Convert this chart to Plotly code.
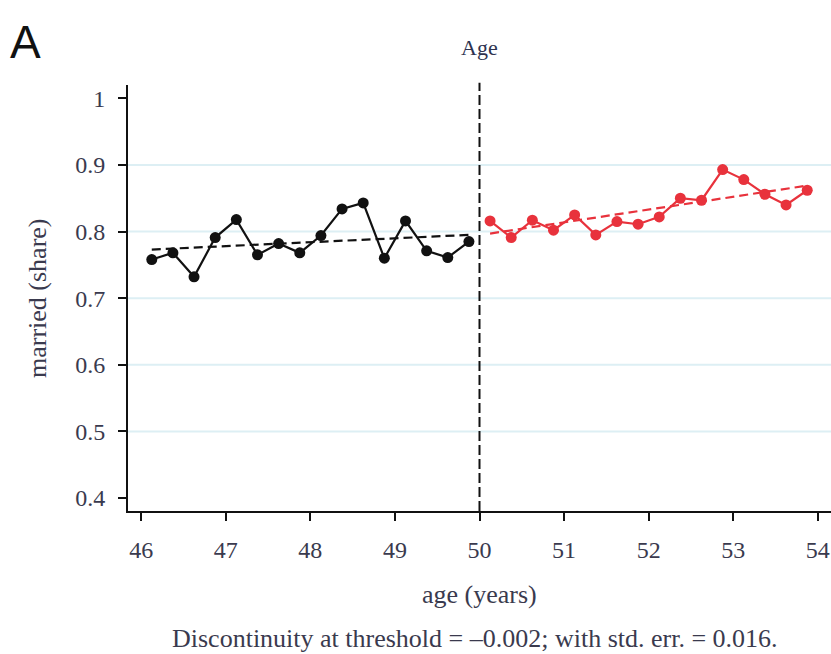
import plotly.graph_objects as go

# ---- data ----
left_age = [46.125, 46.375, 46.625, 46.875, 47.125, 47.375, 47.625, 47.875,
            48.125, 48.375, 48.625, 48.875, 49.125, 49.375, 49.625, 49.875]
left_married = [0.758, 0.768, 0.732, 0.791, 0.818, 0.765, 0.782, 0.768,
                0.794, 0.834, 0.843, 0.760, 0.816, 0.771, 0.761, 0.785]
right_age = [50.125, 50.375, 50.625, 50.875, 51.125, 51.375, 51.625, 51.875,
             52.125, 52.375, 52.625, 52.875, 53.125, 53.375, 53.625, 53.875]
right_married = [0.816, 0.791, 0.817, 0.802, 0.825, 0.795, 0.815, 0.811,
                 0.822, 0.850, 0.847, 0.893, 0.878, 0.856, 0.840, 0.862]
left_fit_x = [46.125, 49.875]
left_fit_y = [0.773, 0.795]
right_fit_x = [50.125, 53.875]
right_fit_y = [0.797, 0.869]
threshold = 50
x_ticks = [46, 47, 48, 49, 50, 51, 52, 53, 54]
y_ticks = [0.4, 0.5, 0.6, 0.7, 0.8, 0.9, 1.0]
y_ticklabels = ["0.4", "0.5", "0.6", "0.7", "0.8", "0.9", "1"]
grid_y = [0.5, 0.6, 0.7, 0.8, 0.9]

BLACK = "#111111"
RED = "#e8323c"
TXT = "#3a3a4e"
SERIF = "Liberation Serif, Times New Roman, serif"

fig = go.Figure()

fig.add_trace(go.Scatter(x=left_fit_x, y=left_fit_y, mode="lines",
                         line=dict(color=BLACK, width=2.2, dash="9px,5px"),
                         showlegend=False, hoverinfo="skip"))
fig.add_trace(go.Scatter(x=right_fit_x, y=right_fit_y, mode="lines",
                         line=dict(color=RED, width=2.2, dash="9px,5px"),
                         showlegend=False, hoverinfo="skip"))
fig.add_trace(go.Scatter(x=left_age, y=left_married, mode="lines+markers",
                         line=dict(color=BLACK, width=2.2),
                         marker=dict(color=BLACK, size=11),
                         showlegend=False))
fig.add_trace(go.Scatter(x=right_age, y=right_married, mode="lines+markers",
                         line=dict(color=RED, width=2.2),
                         marker=dict(color=RED, size=11),
                         showlegend=False))

shapes = []
for g in grid_y:
    shapes.append(dict(type="line", xref="paper", x0=0, x1=1, yref="y", y0=g, y1=g,
                       line=dict(color="#ddeff4", width=2), layer="below"))
shapes.append(dict(type="line", xref="x", x0=threshold, x1=threshold,
                   yref="paper", y0=0, y1=1.005,
                   line=dict(color=BLACK, width=2, dash="10px,4px")))

L, T, B = 128, 85, 143
PH = 654 - T - B

def py(p):
    return (654 - B - p) / PH

annotations = [
    dict(text="A", xref="paper", yref="paper", x=(8 - L) / (831 - L), y=py(42),
         xanchor="left", yanchor="middle", showarrow=False,
         font=dict(family="Liberation Sans, Arial, sans-serif", size=46, color="#111111")),
    dict(text="Age", xref="paper", yref="paper", x=0.5, y=py(47),
         xanchor="center", yanchor="middle", showarrow=False,
         font=dict(family=SERIF, size=22, color="#2e3350")),
    dict(text="age (years)", xref="paper", yref="paper", x=0.5, y=py(594),
         xanchor="center", yanchor="middle", showarrow=False,
         font=dict(family=SERIF, size=26, color=TXT)),
    dict(text="Discontinuity at threshold = \u20130.002; with std. err. = 0.016.",
         xref="paper", yref="paper", x=(475 - L) / (831 - L), y=py(638),
         xanchor="center", yanchor="middle", showarrow=False,
         font=dict(family=SERIF, size=26, color=TXT)),
    dict(text="married (share)", xref="paper", yref="paper", x=(37 - L) / (831 - L), y=0.5,
         xanchor="center", yanchor="middle", showarrow=False, textangle=-90,
         font=dict(family=SERIF, size=26, color=TXT)),
]

fig.update_layout(
    width=831, height=654,
    margin=dict(l=L, r=0, t=T, b=B, pad=0),
    plot_bgcolor="white", paper_bgcolor="white",
    shapes=shapes, annotations=annotations,
    xaxis=dict(range=[45.844, 54.156], tickvals=x_ticks, ticktext=[str(t) for t in x_ticks],
               showgrid=False, zeroline=False, showline=True, linecolor=BLACK, linewidth=2,
               ticks="outside", ticklen=8, tickwidth=2, tickcolor=BLACK,
               ticklabelstandoff=8,
               tickfont=dict(family=SERIF, size=24, color=TXT)),
    yaxis=dict(range=[0.3805, 1.020], tickvals=y_ticks, ticktext=y_ticklabels,
               showgrid=False, zeroline=False, showline=True, linecolor=BLACK, linewidth=2,
               ticks="outside", ticklen=8, tickwidth=2, tickcolor=BLACK,
               ticklabelstandoff=8,
               tickfont=dict(family=SERIF, size=24, color=TXT)),
)

fig.write_html("out.html")
